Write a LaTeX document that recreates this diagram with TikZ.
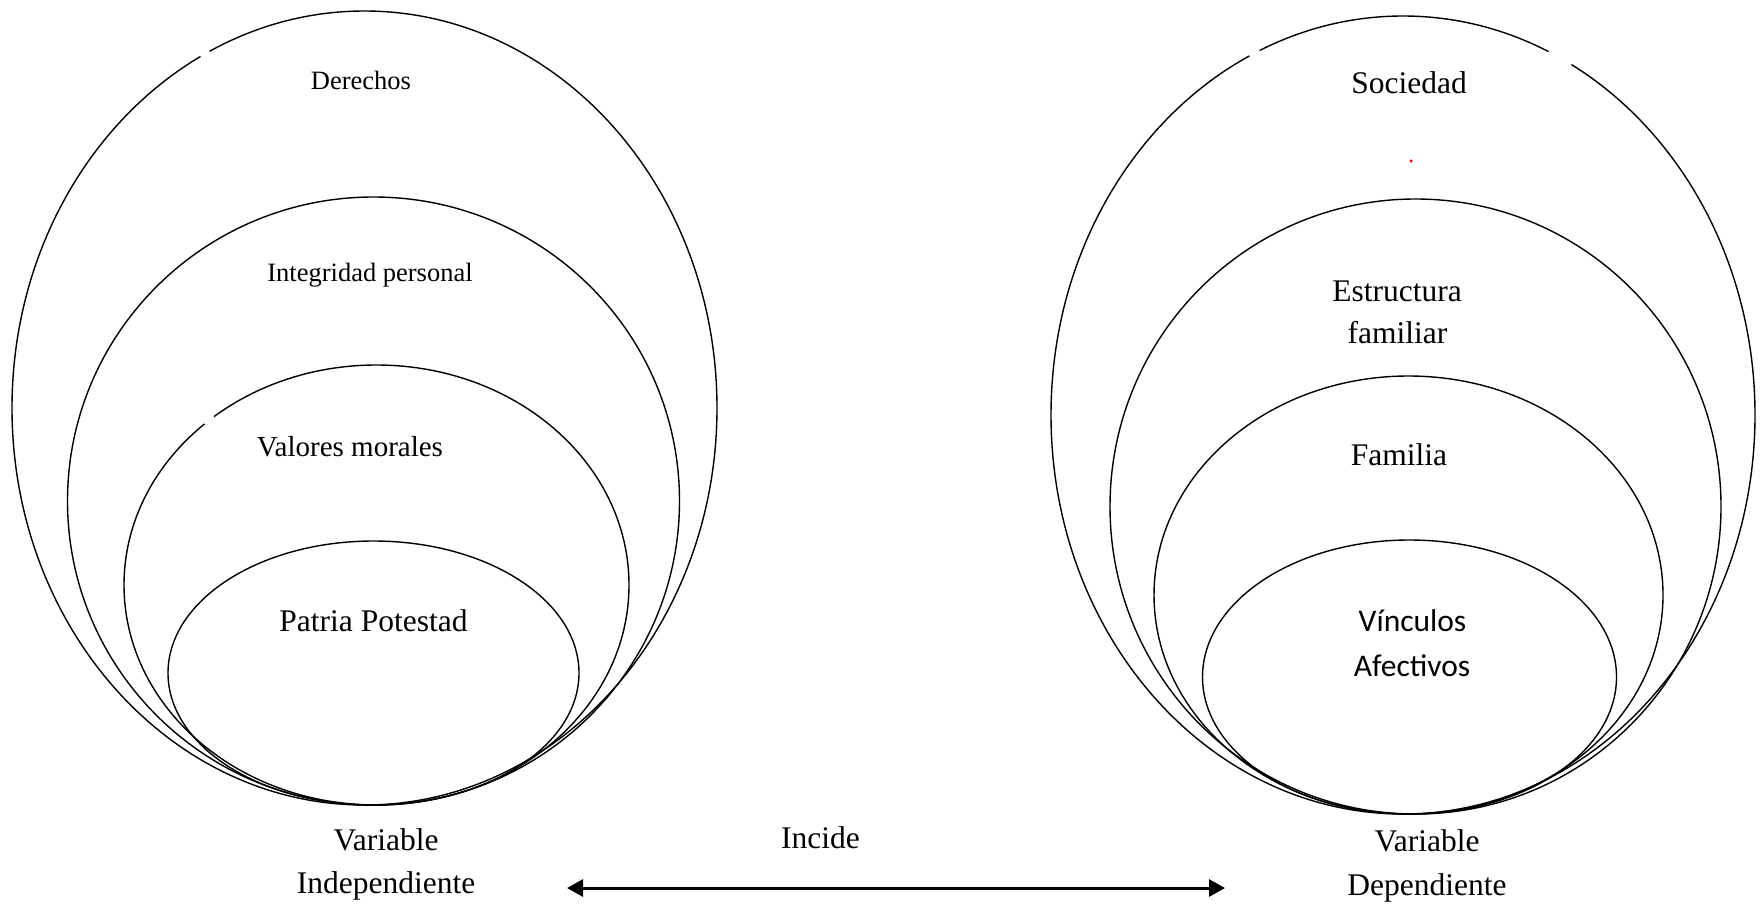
\documentclass[tikz,border=0pt]{standalone}
\usepackage{fontspec}
\setmainfont{Liberation Serif}
\newfontfamily\calib{Carlito}
\usetikzlibrary{arrows.meta,shapes.geometric}
\begin{document}
\begin{tikzpicture}[x=1pt,y=-1pt,
  ring/.style={draw=black, line width=1.4pt, ellipse, inner sep=0pt},
  lab/.style={anchor=base, inner sep=0pt},
  small/.style={font=\fontsize{26.5}{30}\selectfont},
  mid/.style={font=\fontsize{29}{33}\selectfont},
  big/.style={font=\fontsize{31.5}{36}\selectfont},
  gap/.style={draw=white, line width=5pt},
  link/.style={line width=3pt, {Triangle[length=16pt,width=17pt]}-{Triangle[length=16pt,width=17pt]}}
]
\useasboundingbox (0,0) rectangle (1760,905);

% left ellipses
\node[ring, minimum width=705pt, minimum height=794pt] (L1) at (364.5,408) {};
\node[ring, minimum width=612pt, minimum height=608pt] (L2) at (373.5,501) {};
\node[ring, minimum width=505pt, minimum height=440pt] (L3) at (376.5,585) {};
\node[ring, minimum width=411pt, minimum height=264pt] (L4) at (373.5,673) {};

% right ellipses
\node[ring, minimum width=704pt, minimum height=798pt] (R1) at (1403,415) {};
\node[ring, minimum width=611pt, minimum height=615pt] (R2) at (1415.5,506.5) {};
\node[ring, minimum width=509pt, minimum height=438pt] (R3) at (1408.5,595) {};
\node[ring, minimum width=414pt, minimum height=274pt] (R4) at (1409.5,677) {};

% small breaks in the outlines
\draw[gap] (L1.center) ++(-116.1:352.5 and 397) arc[start angle=-116.1, end angle=-117.7, x radius=352.5, y radius=397];
\draw[gap] (L3.center) ++(-130.1:252.5 and 220) arc[start angle=-130.1, end angle=-132.9, x radius=252.5, y radius=220];
\draw[gap] (R1.center) ++(-114.05:352 and 399) arc[start angle=-114.05, end angle=-115.85, x radius=352, y radius=399];
\draw[gap] (R1.center) ++(-61.45:352 and 399) arc[start angle=-61.45, end angle=-65.55, x radius=352, y radius=399];

% left labels
\node[lab, small] (der) at (361,89.5) {Derechos};
\node[lab, small] (int) at (370,281.5) {Integridad personal};
\node[lab, mid] (val) at (350,456) {Valores morales};
\node[lab, big] (pat) at (373.5,631.5) {Patria Potestad};
\node[lab, big] (vi1) at (386,850) {Variable};
\node[lab, big] (vi2) at (386,893) {Independiente};

% right labels
\node[lab, big] (soc) at (1409,93) {Sociedad};
\node[circle, fill=red, inner sep=0pt, minimum size=3.5pt] (dot) at (1411,161) {};
\node[lab, big] (est1) at (1397,301) {Estructura};
\node[lab, big] (est2) at (1397.5,343) {familiar};
\node[lab, big] (fam) at (1399,465) {Familia};
\node[lab, big] (vin1) at (1412.5,631.5) {\calib Vínculos};
\node[lab, big] (vin2) at (1412,676.5) {\calib Afectivos};
\node[lab, big] (vd1) at (1427,851.5) {Variable};
\node[lab, big] (vd2) at (1427,895) {Dependiente};

% relation
\node[lab, big] (inc) at (820.5,848) {Incide};
\coordinate (aL) at (567,888);
\coordinate (aR) at (1225,888);
\draw[link] (aL) -- (aR);
\end{tikzpicture}
\end{document}
